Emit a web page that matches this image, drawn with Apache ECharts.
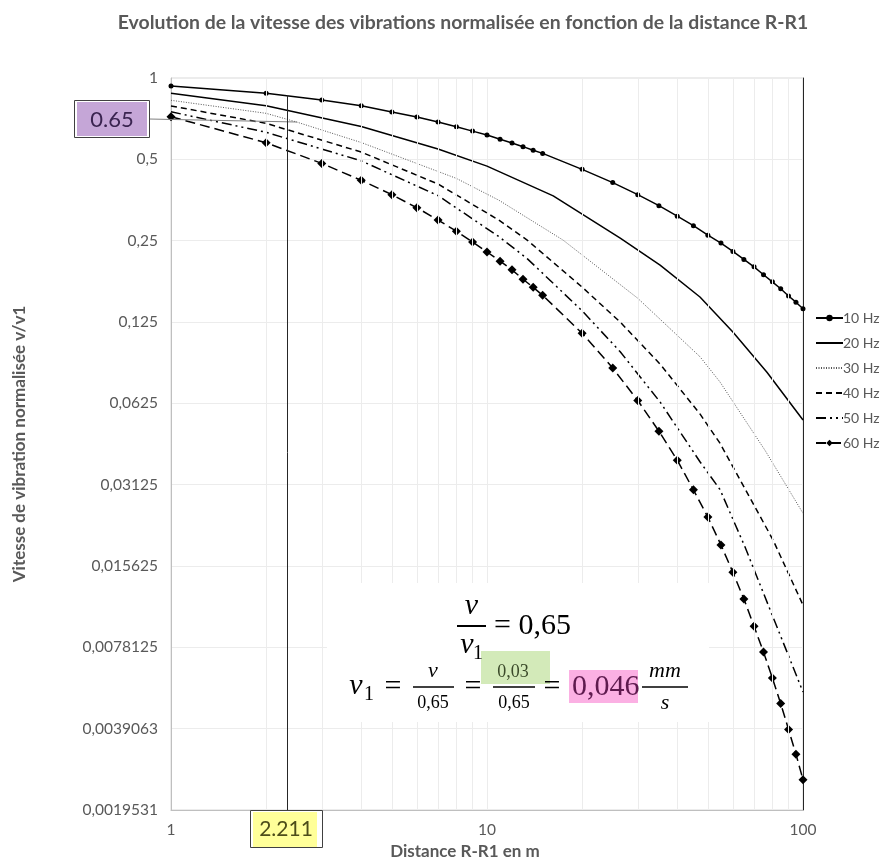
<!DOCTYPE html>
<html><head><meta charset="utf-8">
<script src="https://cdn.jsdelivr.net/npm/echarts@6/dist/echarts.min.js"></script>
<style>html,body{margin:0;padding:0;background:#fff}#c{width:882px;height:866px}</style>
</head><body><div id="c"></div>
<script>
const chartTitle = 'Evolution de la vitesse des vibrations normalisée en fonction de la distance R-R1';
const xAxisTitle = 'Distance R-R1 en m';
const yAxisTitle = 'Vitesse de vibration normalisée v/v1';
const seriesNames = ['10 Hz', '20 Hz', '30 Hz', '40 Hz', '50 Hz', '60 Hz'];
const yTickLabels = ['1','0,5','0,25','0,125','0,0625','0,03125','0,015625','0,0078125','0,0039063','0,0019531'];
const xTickLabels = {1:'1', 10:'10', 100:'100'};
const xMinorGrid = [2,3,4,5,6,7,8,9,20,30,40,50,60,70,80,90];

// Marked series (10 Hz, 60 Hz)
const xMarked = [1,2,3,4,5,6,7,8,9,10,11,12,13,14,15,20,25,30,35,40,45,50,55,60,65,70,75,80,85,90,95,100];
const v10 = [0.934,0.878,0.829,0.790,0.748,0.717,0.687,0.660,0.636,0.615,0.593,0.575,0.557,0.540,0.526,0.459,0.410,0.370,0.337,0.308,0.284,0.262,0.245,0.228,0.213,0.200,0.187,0.176,0.166,0.156,0.148,0.140];
const v60 = [0.719,0.576,0.483,0.418,0.370,0.331,0.298,0.271,0.247,0.227,0.210,0.195,0.180,0.168,0.157,0.1135,0.0844,0.0640,0.0493,0.0385,0.0299,0.0237,0.0187,0.0148,0.0118,0.00935,0.00750,0.00602,0.00484,0.00388,0.00314,0.00253];

// Unmarked series
const x20 = [1,2,4,7,10,16.2,26.4,35.3,47.2,60,76.9,100];
const v20 = [0.878,0.790,0.661,0.546,0.472,0.366,0.2556,0.2031,0.1547,0.1148,0.0815,0.0542];
const x30 = [1,2,2.5,4,8,10.9,17.4,30,47.2,54.6,75.8,100];
const v30 = [0.827,0.740,0.687,0.577,0.425,0.353,0.2513,0.153,0.0930,0.0750,0.0419,0.0245];
const x40 = [1,2,4,7,10.9,13.4,20,26.4,35.3,47.2,54.6,80.4,100];
const v40 = [0.788,0.6795,0.532,0.405,0.298,0.2513,0.1683,0.1249,0.0873,0.0571,0.0445,0.0195,0.0112];
const x50 = [1,2,4,7,10.9,13.4,20,26.4,35.3,47.2,54.6,65.5,100];
const v50 = [0.750,0.6295,0.4936,0.3669,0.2589,0.2146,0.1375,0.0970,0.0632,0.0380,0.0300,0.0184,0.00534];

const zip = (xs, ys) => xs.map((x, i) => [x, ys[i]]);
const grey = '#595959';
const uiFont = 'Lato';
const mathFont = '"Liberation Serif"';

const chart = echarts.init(document.getElementById('c'), null, {renderer: 'canvas'});
const plain = (name, xs, ys, color, width, type) => ({
  type: 'line', name, data: zip(xs, ys), symbol: 'none', showSymbol: false, smooth: false, z: 3,
  itemStyle: {color}, lineStyle: {color, width, type}
});
const noSym = {opacity: 0};

const option = {
  backgroundColor: '#ffffff',
  animation: false,
  title: {
    text: chartTitle, left: 458, top: 8, textAlign: 'center',
    textStyle: {fontFamily: uiFont, fontWeight: 'bold', fontSize: 19.4, color: grey}
  },
  grid: {left: 171, right: 79, top: 78, bottom: 56, show: true, borderColor: '#d9d9d9', borderWidth: 1, outerBoundsMode: 'none'},
  legend: {
    orient: 'vertical', left: 810, top: 306, itemWidth: 27, itemHeight: 8, itemGap: 11,
    data: [
      {name: seriesNames[0]}, {name: seriesNames[1], itemStyle: noSym}, {name: seriesNames[2], itemStyle: noSym},
      {name: seriesNames[3], itemStyle: noSym}, {name: seriesNames[4], itemStyle: noSym}, {name: seriesNames[5]}
    ],
    textStyle: {fontFamily: uiFont, fontSize: 14, color: grey, padding: [0, 0, 0, -5]}
  },
  xAxis: {
    type: 'log', logBase: 10, min: 1, max: 100, interval: 1,
    name: xAxisTitle, nameLocation: 'middle', nameGap: 25,
    nameTextStyle: {fontFamily: uiFont, fontWeight: 'bold', fontSize: 17, color: grey, padding: [0, 44, 0, 0]},
    axisLine: {show: true, lineStyle: {color: '#bfbfbf', width: 1}},
    axisTick: {show: false},
    axisLabel: {fontFamily: uiFont, fontSize: 15.5, color: grey, margin: 12, formatter: v => xTickLabels[Math.round(v)] || ''},
    splitLine: {show: true, lineStyle: {color: '#ececec', width: 1}}
  },
  yAxis: [{
    type: 'log', logBase: 2, min: 1/512, max: 1, interval: 1,
    name: yAxisTitle, nameLocation: 'middle', nameGap: 143, nameRotate: 90,
    nameTextStyle: {fontFamily: uiFont, fontWeight: 'bold', fontSize: 17, color: grey},
    axisLine: {show: true, lineStyle: {color: '#bfbfbf', width: 1}},
    axisTick: {show: false},
    axisLabel: {fontFamily: uiFont, fontSize: 15.5, color: grey, margin: 13,
      formatter: v => yTickLabels[Math.round(-Math.log2(v))] || ''},
    splitLine: {show: true, lineStyle: {color: '#ececec', width: 1}}
  }, {
    type: 'log', logBase: 2, min: 1/512, max: 1, interval: 1, position: 'right',
    axisLine: {show: true, onZero: false, lineStyle: {color: '#262626', width: 1}},
    axisTick: {show: false}, axisLabel: {show: false}, splitLine: {show: false}
  }],
  series: [
    {type: 'line', name: '_grid', data: [[1, 1]], symbol: 'none', lineStyle: {opacity: 0}, silent: true, z: 1,
      markLine: {silent: true, symbol: 'none', label: {show: false}, animation: false,
        lineStyle: {color: '#ececec', width: 1, type: 'solid'},
        data: xMinorGrid.map(x => ({xAxis: x}))}},
    {type: 'line', name: seriesNames[0], data: zip(xMarked, v10), symbol: 'circle', symbolSize: 5, showSymbol: true,
      itemStyle: {color: '#000'}, lineStyle: {color: '#000', width: 1.5, type: 'solid'}, z: 4},
    plain(seriesNames[1], x20, v20, '#000', 1.5, 'solid'),
    plain(seriesNames[2], x30, v30, '#555', 1, [1, 1.5]),
    plain(seriesNames[3], x40, v40, '#000', 1.5, [6, 4]),
    plain(seriesNames[4], x50, v50, '#000', 1.5, [10, 4, 2, 4, 2, 4]),
    {type: 'line', name: seriesNames[5], data: zip(xMarked, v60), symbol: 'diamond', symbolSize: 9, showSymbol: true,
      itemStyle: {color: '#000'}, lineStyle: {color: '#000', width: 1.5, type: [10, 5]}, z: 4}
  ],
  graphic: [
    // 0.65 annotation
    {type: 'line', shape: {x1: 149, y1: 119, x2: 297, y2: 122}, style: {stroke: '#7f7f7f', lineWidth: 1}, z: 50},
    {type: 'rect', shape: {x: 74.5, y: 100.5, width: 75, height: 37}, style: {fill: '#ffffff', stroke: '#404040', lineWidth: 1}, z: 50},
    {type: 'rect', shape: {x: 77, y: 102, width: 70, height: 34}, style: {fill: '#c5a6d7'}, z: 50},
    {type: 'text', style: {text: '0.65', x: 112, y: 120, align: 'center', verticalAlign: 'middle', font: '22px ' + uiFont, fill: '#3a2450'}, z: 51},
    // 2.211 annotation
    {type: 'line', shape: {x1: 287.5, y1: 95, x2: 287.5, y2: 810}, style: {stroke: '#262626', lineWidth: 1}, z: 50},
    {type: 'rect', shape: {x: 250.5, y: 810.5, width: 72, height: 37}, style: {fill: '#ffffff', stroke: '#404040', lineWidth: 1}, z: 50},
    {type: 'rect', shape: {x: 253, y: 812, width: 64, height: 35}, style: {fill: '#ffff99'}, z: 50},
    {type: 'text', style: {text: '2.211', x: 286, y: 829, align: 'center', verticalAlign: 'middle', font: '21px ' + uiFont, fill: '#4d4d1a'}, z: 51},
    // formula
    {type: 'rect', shape: {x: 327, y: 583, width: 382, height: 139}, style: {fill: '#ffffff'}, z: 40},
    {type: 'text', style: {text: 'v', x: 471.5, y: 606, align: 'center', verticalAlign: 'middle', font: 'italic 30px ' + mathFont, fill: '#000'}, z: 51},
    {type: 'line', shape: {x1: 457, y1: 626, x2: 486, y2: 626}, style: {stroke: '#000', lineWidth: 2}, z: 51},
    {type: 'text', style: {text: 'v', x: 467, y: 645, align: 'center', verticalAlign: 'middle', font: 'italic 30px ' + mathFont, fill: '#000'}, z: 51},
    {type: 'text', style: {text: '1', x: 478, y: 654, align: 'center', verticalAlign: 'middle', font: '20px ' + mathFont, fill: '#000'}, z: 51},
    {type: 'text', style: {text: '= 0,65', x: 494, y: 626, align: 'left', verticalAlign: 'middle', font: '30px ' + mathFont, fill: '#000'}, z: 51},

    {type: 'text', style: {text: 'v', x: 356, y: 686, align: 'center', verticalAlign: 'middle', font: 'italic 30px ' + mathFont, fill: '#000'}, z: 51},
    {type: 'text', style: {text: '1', x: 369, y: 695, align: 'center', verticalAlign: 'middle', font: '20px ' + mathFont, fill: '#000'}, z: 51},
    {type: 'text', style: {text: '=', x: 393, y: 687, align: 'center', verticalAlign: 'middle', font: '30px ' + mathFont, fill: '#000'}, z: 51},
    {type: 'text', style: {text: 'v', x: 433, y: 671, align: 'center', verticalAlign: 'middle', font: 'italic 22px ' + mathFont, fill: '#000'}, z: 51},
    {type: 'line', shape: {x1: 413, y1: 687, x2: 454, y2: 687}, style: {stroke: '#000', lineWidth: 1.5}, z: 51},
    {type: 'text', style: {text: '0,65', x: 433, y: 703, align: 'center', verticalAlign: 'middle', font: '18px ' + mathFont, fill: '#000'}, z: 51},
    {type: 'text', style: {text: '=', x: 473, y: 687, align: 'center', verticalAlign: 'middle', font: '30px ' + mathFont, fill: '#000'}, z: 51},
    {type: 'rect', shape: {x: 481, y: 651, width: 69, height: 33}, style: {fill: '#d3eab9'}, z: 50},
    {type: 'text', style: {text: '0,03', x: 513, y: 672, align: 'center', verticalAlign: 'middle', font: '18px ' + mathFont, fill: '#3b4a2a'}, z: 51},
    {type: 'line', shape: {x1: 493, y1: 687, x2: 535, y2: 687}, style: {stroke: '#000', lineWidth: 1.5}, z: 51},
    {type: 'text', style: {text: '0,65', x: 514, y: 703, align: 'center', verticalAlign: 'middle', font: '18px ' + mathFont, fill: '#000'}, z: 51},
    {type: 'text', style: {text: '=', x: 552, y: 687, align: 'center', verticalAlign: 'middle', font: '30px ' + mathFont, fill: '#000'}, z: 51},
    {type: 'rect', shape: {x: 569, y: 670, width: 69, height: 33}, style: {fill: '#fbb0e3'}, z: 50},
    {type: 'text', style: {text: '0,046', x: 572, y: 687, align: 'left', verticalAlign: 'middle', font: '30px ' + mathFont, fill: '#5e1a4e'}, z: 51},
    {type: 'text', style: {text: 'mm', x: 665, y: 671, align: 'center', verticalAlign: 'middle', font: 'italic 22px ' + mathFont, fill: '#000'}, z: 51},
    {type: 'line', shape: {x1: 642, y1: 687, x2: 688, y2: 687}, style: {stroke: '#000', lineWidth: 1.5}, z: 51},
    {type: 'text', style: {text: 's', x: 665, y: 703, align: 'center', verticalAlign: 'middle', font: 'italic 22px ' + mathFont, fill: '#000'}, z: 51}
  ]
};
chart.setOption(option);
</script>
</body></html>
